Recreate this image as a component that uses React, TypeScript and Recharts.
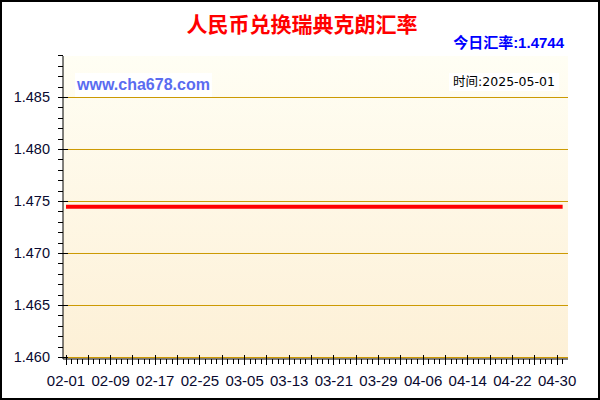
import React from "react";
import { LineChart, Line, XAxis, YAxis, CartesianGrid, ReferenceLine } from "recharts";

// daily rate, 02-01 .. 05-01 (flat)
const rates = [
  1.4745, 1.4745, 1.4745, 1.4745, 1.4745, 1.4745, 1.4745, 1.4745, 1.4745, 1.4745,
  1.4745, 1.4745, 1.4745, 1.4745, 1.4745, 1.4745, 1.4745, 1.4745, 1.4745, 1.4745,
  1.4745, 1.4745, 1.4745, 1.4745, 1.4745, 1.4745, 1.4745, 1.4745, 1.4745, 1.4745,
  1.4745, 1.4745, 1.4745, 1.4745, 1.4745, 1.4745, 1.4745, 1.4745, 1.4745, 1.4745,
  1.4745, 1.4745, 1.4745, 1.4745, 1.4745, 1.4745, 1.4745, 1.4745, 1.4745, 1.4745,
  1.4745, 1.4745, 1.4745, 1.4745, 1.4745, 1.4745, 1.4745, 1.4745, 1.4745, 1.4745,
  1.4745, 1.4745, 1.4745, 1.4745, 1.4745, 1.4745, 1.4745, 1.4745, 1.4745, 1.4745,
  1.4745, 1.4745, 1.4745, 1.4745, 1.4745, 1.4745, 1.4745, 1.4745, 1.4745, 1.4745,
  1.4745, 1.4745, 1.4745, 1.4745, 1.4745, 1.4745, 1.4745, 1.4745, 1.4745, 1.4745,
];

const xLabels = [
  "02-01", "02-09", "02-17", "02-25", "03-05", "03-13",
  "03-21", "03-29", "04-06", "04-14", "04-22", "04-30",
];
const yLabels = [1.46, 1.465, 1.47, 1.475, 1.48, 1.485];

const TITLE = "人民币兑换瑞典克朗汇率";
const TODAY = "今日汇率:1.4744";
const SITE = "www.cha678.com";
const STAMP = "时间:2025-05-01";

const data = rates.map((rate, day) => ({ day, rate }));
const dayTicks = rates.map((_, i) => i);
const yTicks = Array.from({ length: 30 }, (_, i) => +(1.46 + i * 0.001).toFixed(3));

const X_DOMAIN: [number, number] = [-0.54, 89.96];
const Y_DOMAIN: [number, number] = [1.459855, 1.48899];

const labelFont = "'Liberation Sans', Arial, sans-serif";
const cjkFont = "'Noto Sans CJK SC', sans-serif";

const BottomTick = (props: any) => {
  const { x, y, payload } = props;
  const d = payload.value;
  const major = d % 4 === 0;
  const label = d % 8 === 0 ? xLabels[d / 8] : null;
  return (
    <g>
      <line x1={x} x2={x} y1={major ? y - 4 : y} y2={major ? y + 6 : y + 5} stroke="#000" shapeRendering="crispEdges" />
      {label && (
        <text x={x} y={y + 27} textAnchor="middle" fontSize={15} fontFamily={labelFont} fill="#0a0a30">
          {label}
        </text>
      )}
    </g>
  );
};

const TopTick = (props: any) => {
  const { x, y, payload } = props;
  const major = payload.value % 4 === 0;
  return <line x1={x} x2={x} y1={y} y2={major ? y + 6 : y + 4} stroke="#000" shapeRendering="crispEdges" />;
};

const LeftTick = (props: any) => {
  const { x, y, payload } = props;
  const k = Math.round((payload.value - 1.46) * 1000);
  const major = k % 5 === 0;
  return (
    <g>
      <line x1={x - 5} x2={major ? x + 5 : x} y1={y} y2={y} stroke="#000" shapeRendering="crispEdges" />
      {major && (
        <text x={x - 13} y={y + 5} textAnchor="end" fontSize={14.5} fontFamily={labelFont} fill="#0a0a30">
          {payload.value.toFixed(3)}
        </text>
      )}
    </g>
  );
};

const RightTick = (props: any) => {
  const { x, y, payload } = props;
  const k = Math.round((payload.value - 1.46) * 1000);
  const major = k % 5 === 0;
  return <line x1={major ? x - 6 : x - 4} x2={x} y1={y} y2={y} stroke="#000" shapeRendering="crispEdges" />;
};

export default function App() {
  return (
    <div style={{ position: "absolute", left: 0, top: 0, width: 600, height: 400, background: "#fff" }}>
      <LineChart width={600} height={400} data={data} margin={{ top: 56, right: 32, left: 0, bottom: 0 }}>
        <defs>
          <linearGradient id="plotBg" x1="0" y1="0" x2="0" y2="1">
            <stop offset="0%" stopColor="#fffef4" />
            <stop offset="100%" stopColor="#fdf0d6" />
          </linearGradient>
        </defs>
        <CartesianGrid vertical={false} horizontal={false} fill="url(#plotBg)" fillOpacity={1} />
        {yLabels.map((v) => (
          <ReferenceLine key={v} y={v} stroke="#cc9900" strokeWidth={1} ifOverflow="hidden" />
        ))}
        <XAxis
          dataKey="day"
          type="number"
          domain={X_DOMAIN}
          ticks={dayTicks}
          interval={0}
          height={41}
          tickSize={0}
          tickMargin={0}
          tickLine={false}
          axisLine={{ stroke: "#000" }}
          tick={<BottomTick />}
          allowDataOverflow
        />
        <XAxis
          xAxisId="top"
          orientation="top"
          dataKey="day"
          type="number"
          domain={X_DOMAIN}
          ticks={dayTicks}
          interval={0}
          height={0}
          tickSize={0}
          tickMargin={0}
          tickLine={false}
          axisLine={{ stroke: "#000" }}
          tick={<TopTick />}
          allowDataOverflow
        />
        <YAxis
          type="number"
          domain={Y_DOMAIN}
          ticks={yTicks}
          interval={0}
          width={63}
          tickSize={0}
          tickMargin={0}
          tickLine={false}
          axisLine={{ stroke: "#000" }}
          tick={<LeftTick />}
          allowDataOverflow
        />
        <YAxis
          yAxisId="right"
          orientation="right"
          type="number"
          domain={Y_DOMAIN}
          ticks={yTicks}
          interval={0}
          width={0}
          tickSize={0}
          tickMargin={0}
          tickLine={false}
          axisLine={{ stroke: "#000" }}
          tick={<RightTick />}
          allowDataOverflow
        />
        <Line
          dataKey="rate"
          stroke="#ff0000"
          strokeWidth={4}
          dot={false}
          activeDot={false}
          isAnimationActive={false}
        />
      </LineChart>

      <div
        style={{
          position: "absolute", left: 0, top: 10, width: 604, textAlign: "center",
          fontFamily: cjkFont, fontWeight: 700, fontSize: 21, color: "#ff0000", lineHeight: "26px",
        }}
      >
        {TITLE}
      </div>
      <div
        style={{
          position: "absolute", right: 36, top: 33, fontFamily: `${labelFont}, ${cjkFont}`,
          fontWeight: 700, fontSize: 15, color: "#0000ff", lineHeight: "20px",
        }}
      >
        {TODAY}
      </div>
      <div
        style={{
          position: "absolute", left: 75, top: 73, width: 137, height: 24, background: "#fff",
          fontFamily: labelFont, fontWeight: 700, fontSize: 16, color: "#5a6cf0",
          lineHeight: "24px", textAlign: "center",
        }}
      >
        {SITE}
      </div>
      <div
        style={{
          position: "absolute", left: 449, top: 73, width: 110, height: 18, background: "#fff",
          fontFamily: `'DejaVu Sans', ${cjkFont}`, fontSize: 12.5, color: "#000",
          lineHeight: "18px", textAlign: "center",
        }}
      >
        {STAMP}
      </div>
      <div
        style={{
          position: "absolute", left: 0, top: 0, width: 600, height: 400,
          boxSizing: "border-box", border: "2px solid #000", pointerEvents: "none",
        }}
      />
    </div>
  );
}
